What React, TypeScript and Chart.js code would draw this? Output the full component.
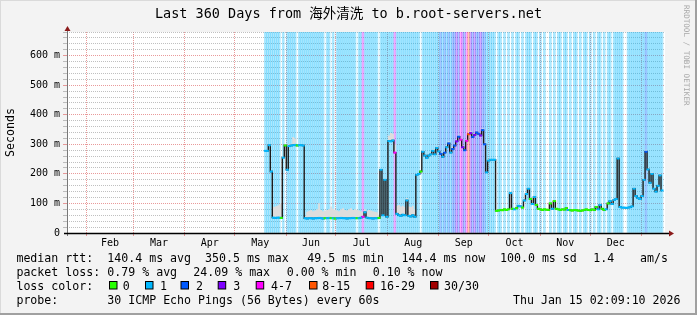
import React, { useEffect, useRef } from "react";
import { Chart, registerables } from "chart.js";

Chart.register(...registerables);

const W = 697;
const H = 315;

const TITLE = "Last 360 Days from 海外清洗 to b.root-servers.net";
const Y_TITLE = "Seconds";
const SIDE_TEXT = "RRDTOOL / TOBI OETIKER";

// days since the start of the 360-day window (Jan 20 2025 02:09)
const monthStartDays = [11.9, 39.9, 70.9, 100.9, 131.9, 161.9, 192.9, 223.9, 253.9, 284.9, 314.9, 345.9];
const monthMidDays = [25.9, 55.4, 85.9, 116.4, 146.9, 177.4, 208.4, 238.9, 269.4, 299.9, 330.4];
const monthLabels = ["Feb", "Mar", "Apr", "May", "Jun", "Jul", "Aug", "Sep", "Oct", "Nov", "Dec"];

const yMax = 680;
const yTickStep = 20;

const sampleStartDay = 119.4;
const sampleStepDay = 1.2;

// median rtt (ms) per sample
const medianMs = [
  278, 278, 297, 208, 52, 51, 52, 52, 51, 255,
  296, 214, 294, 296, 297, 298, 296, 297, 297, 296,
  50, 49, 50, 50, 49, 50, 50, 51, 50, 49,
  50, 50, 51, 50, 50, 49, 50, 50, 51, 50,
  50, 49, 50, 50, 51, 50, 50, 50, 52, 55,
  70, 52, 50, 50, 49, 50, 50, 51, 214, 60,
  180, 55, 311, 310, 313, 272, 65, 60, 58, 62,
  60, 110, 58, 56, 60, 55, 197, 200, 208, 275,
  262, 254, 262, 266, 278, 266, 288, 276, 268, 258,
  272, 290, 303, 272, 284, 296, 310, 326, 316, 290,
  280, 312, 334, 338, 325, 332, 340, 336, 330, 348,
  300, 205, 245, 248, 248, 248, 75, 76, 78, 77,
  80, 78, 80, 135, 82, 80, 84, 92, 90, 86,
  110, 132, 150, 115, 98, 122, 95, 82, 80, 78,
  80, 79, 78, 100, 82, 108, 82, 80, 78, 80,
  79, 84, 78, 77, 76, 78, 77, 76, 75, 76,
  78, 80, 78, 77, 80, 78, 88, 80, 95, 82,
  78, 80, 100, 108, 98, 112, 115, 252, 88, 86,
  86, 85, 86, 87, 90, 150, 125, 118, 115, 125,
  180, 275, 215, 170, 200, 150, 140, 160, 195, 144,
];

// upper edge of the smoke (ms) per sample
const smokeTopMs = [
  282, 282, 300, 210, 88, 90, 92, 96, 100, 258,
  300, 218, 300, 302, 325, 320, 300, 302, 300, 300,
  58, 72, 75, 78, 74, 76, 80, 101, 78, 74,
  76, 78, 80, 90, 82, 78, 76, 74, 80, 84,
  78, 76, 80, 84, 78, 80, 78, 76, 74, 72,
  80, 74, 78, 76, 74, 72, 70, 62, 218, 64,
  184, 60, 330, 338, 336, 300, 92, 95, 90, 92,
  88, 118, 90, 88, 92, 80, 200, 204, 212, 280,
  268, 260, 268, 272, 284, 272, 294, 282, 274, 264,
  278, 296, 310, 278, 290, 302, 316, 332, 322, 296,
  286, 318, 340, 344, 331, 338, 346, 342, 336, 354,
  306, 210, 250, 252, 252, 252, 78, 79, 81, 80,
  83, 81, 83, 140, 85, 83, 87, 96, 94, 89,
  115, 137, 156, 119, 102, 127, 99, 85, 83, 81,
  83, 82, 81, 104, 85, 112, 85, 83, 81, 83,
  82, 87, 81, 80, 79, 81, 80, 79, 78, 79,
  81, 83, 81, 80, 83, 81, 92, 83, 99, 85,
  81, 83, 104, 112, 102, 116, 119, 258, 91, 89,
  89, 88, 89, 90, 93, 156, 130, 122, 119, 130,
  186, 282, 222, 176, 206, 156, 145, 166, 202, 150,
];

// loss class per sample (index into lossColors) for the background shading
const lossBackground =
  "1111111101" + "0111110111" + "1111111111" + "0110101111" + "1111110114" +
  "1111111011" + "1111141111" + "1111111101" + "1111111121" + "2121223243" +
  "2453232232" + "2111110110" + "1010101101" + "0111011010" + "1001010110" +
  "1101011010" + "1101010110" + "1011011111" + "0011111111" + "1211111111";

// loss class per sample for the median line colour
const lossLine =
  "1111111101" + "0111110111" + "1111111111" + "0110101111" + "1111110114" +
  "1111111011" + "1111141111" + "1111111101" + "1111111121" + "2121223243" +
  "2453232232" + "2111110000" + "0001010110" + "1110110000" + "0000100000" +
  "0010000000" + "0000000110" + "0101111111" + "1111111111" + "1211111111";

const lossColors = ["#26ff00", "#00b8ff", "#0059ff", "#7e00ff", "#ff00ff", "#ff5500", "#ff0000", "#a10000"];
const lossLabels = ["0", "1", "2", "3", "4-7", "8-15", "16-29", "30/30"];

const rttRow = ["median rtt:", "140.4 ms avg", "350.5 ms max", "49.5 ms min", "144.4 ms now", "100.0 ms sd", "1.4", "am/s"];
const lossRow = ["packet loss:", "0.79 % avg", "24.09 % max", "0.00 % min", "0.10 % now"];
const lossColorTitle = "loss color:";
const probeRow = ["probe:", "30 ICMP Echo Pings (56 Bytes) every 60s"];
const stamp = "Thu Jan 15 02:09:10 2026";

const MONO = '"DejaVu Sans Mono", "Noto Sans CJK SC", monospace';
const mono = (px: number) => `${px}px ${MONO}`;

const BG_ALPHA = 0.33;
function lightColor(hex: string): string {
  const r = parseInt(hex.slice(1, 3), 16);
  const g = parseInt(hex.slice(3, 5), 16);
  const b = parseInt(hex.slice(5, 7), 16);
  return `rgba(${r},${g},${b},${BG_ALPHA})`;
}

const MAJOR = "rgba(225,120,120,0.75)";
const MINOR = "rgba(150,150,150,0.6)";

const decorPlugin = {
  id: "decor",
  beforeDraw(chart: any) {
    const { ctx, chartArea: a } = chart;
    ctx.save();
    ctx.fillStyle = "#f3f3f3";
    ctx.fillRect(0, 0, W, H);
    ctx.fillStyle = "#ffffff";
    ctx.fillRect(a.left, a.top, a.right - a.left, a.bottom - a.top);
    ctx.restore();
  },
  afterDraw(chart: any) {
    const { ctx, chartArea: a } = chart;
    ctx.save();
    // axes
    ctx.strokeStyle = "#777";
    ctx.lineWidth = 1;
    ctx.beginPath();
    ctx.moveTo(a.left + 0.5, a.bottom + 3);
    ctx.lineTo(a.left + 0.5, a.top - 2);
    ctx.stroke();
    ctx.strokeStyle = "#000";
    ctx.lineWidth = 1.5;
    ctx.beginPath();
    ctx.moveTo(a.left - 3, a.bottom + 0.5);
    ctx.lineTo(a.right + 5, a.bottom + 0.5);
    ctx.stroke();
    ctx.fillStyle = "#8b1a1a";
    ctx.beginPath();
    ctx.moveTo(a.left + 0.5, a.top - 6);
    ctx.lineTo(a.left - 2.5, a.top - 1);
    ctx.lineTo(a.left + 3.5, a.top - 1);
    ctx.closePath();
    ctx.fill();
    ctx.beginPath();
    ctx.moveTo(a.right + 9, a.bottom + 0.5);
    ctx.lineTo(a.right + 4, a.bottom - 2.5);
    ctx.lineTo(a.right + 4, a.bottom + 3.5);
    ctx.closePath();
    ctx.fill();

    // title
    ctx.fillStyle = "#000";
    ctx.textBaseline = "middle";
    ctx.textAlign = "center";
    ctx.font = mono(13.5);
    ctx.fillText(TITLE, 348.5, 14.5);

    // y title
    ctx.save();
    ctx.translate(11, (a.top + a.bottom) / 2);
    ctx.rotate(-Math.PI / 2);
    ctx.font = mono(11.6);
    ctx.fillText(Y_TITLE, 0, 0);
    ctx.restore();

    // side text
    ctx.save();
    ctx.translate(686, 5);
    ctx.rotate(Math.PI / 2);
    ctx.textAlign = "left";
    ctx.fillStyle = "#a8a8a8";
    ctx.font = mono(7.6);
    ctx.fillText(SIDE_TEXT, 0, 0);
    ctx.restore();

    // legend
    ctx.textAlign = "left";
    ctx.font = mono(11.6);
    ctx.fillStyle = "#000";
    const rttX = [16.4, 107.3, 205, 307.3, 401.5, 500, 593.3, 640];
    rttRow.forEach((t, i) => ctx.fillText(t, rttX[i], 258.8));
    const lossX = [16.4, 107.3, 193.3, 286.7, 372.7];
    lossRow.forEach((t, i) => ctx.fillText(t, lossX[i], 273.2));
    ctx.fillText(lossColorTitle, 16.4, 286.5);
    const boxX = [109, 145, 180.5, 217.7, 255.7, 309, 365.7, 430];
    const labX = [122.7, 160, 196, 233.3, 271, 322.3, 380, 444];
    lossLabels.forEach((t, i) => {
      ctx.fillStyle = lossColors[i];
      ctx.fillRect(boxX[i] + 0.5, 281.5, 7.5, 7.5);
      ctx.strokeStyle = "#000";
      ctx.lineWidth = 1;
      ctx.strokeRect(boxX[i] + 0.5, 281.5, 7.5, 7.5);
      ctx.fillStyle = "#000";
      ctx.fillText(t, labX[i], 286.5);
    });
    ctx.fillText(probeRow[0], 16.4, 301);
    ctx.fillText(probeRow[1], 107.3, 301);
    ctx.textAlign = "right";
    ctx.fillText(stamp, 680.5, 301);

    // frame shading
    ctx.fillStyle = "#dadada";
    ctx.fillRect(0, 0, W, 1);
    ctx.fillRect(0, 0, 1, H);
    ctx.fillStyle = "#a0a0a0";
    ctx.fillRect(W - 2, 0, 2, H);
    ctx.fillRect(0, H - 2, W, 2);
    ctx.restore();
  },
};

export default function App() {
  const ref = useRef<HTMLCanvasElement>(null);
  useEffect(() => {
    document.body.style.margin = "0";
    const canvas = ref.current;
    if (!canvas) return;
    const xs = medianMs.map((_, i) => sampleStartDay + i * sampleStepDay);
    const medianPts = medianMs.map((v, i) => ({ x: xs[i], y: v }));
    const smokePts = smokeTopMs.map((v, i) => ({ x: xs[i], y: v }));
    const bgPts = lossBackground.split("").map((_, i) => ({ x: xs[i], y: yMax }));
    const bgColors = lossBackground
      .split("")
      .map((c) => (c === "0" ? "rgba(0,0,0,0)" : lightColor(lossColors[+c])));
    const lineColors = lossLine.split("").map((c) => lossColors[+c]);

    const chart = new Chart(canvas, {
      type: "line",
      data: {
        datasets: [
          {
            data: medianPts,
            showLine: false,
            pointStyle: "line",
            pointRadius: 1.5,
            pointBorderWidth: 2,
            pointBorderColor: lineColors,
            pointBackgroundColor: lineColors,
            order: 0,
          } as any,
          {
            data: medianPts,
            borderColor: "#1c1c1c",
            borderWidth: 1.4,
            pointRadius: 0,
            stepped: "middle",
            fill: false,
            order: 1,
          },
          {
            data: smokePts,
            borderWidth: 0,
            borderColor: "rgba(0,0,0,0)",
            backgroundColor: "#dddddd",
            pointRadius: 0,
            stepped: "middle",
            fill: 1,
            order: 2,
          },
          {
            type: "bar",
            data: bgPts,
            backgroundColor: bgColors,
            borderWidth: 0,
            barPercentage: 1,
            categoryPercentage: 1,
            grouped: false,
            order: 3,
          } as any,
        ],
      },
      options: {
        responsive: false,
        animation: false,
        devicePixelRatio: 1,
        events: [],
        layout: { padding: { left: 0, right: 32, top: 32, bottom: 0 } },
        plugins: { legend: { display: false }, tooltip: { enabled: false }, title: { display: false } },
        scales: {
          x: {
            type: "linear",
            min: 0,
            max: 360,
            offset: false,
            z: 1,
            afterBuildTicks: (scale: any) => {
              scale.ticks = [...monthStartDays, ...monthMidDays]
                .sort((p, q) => p - q)
                .map((v) => ({ value: v }));
            },
            afterFit: (scale: any) => {
              scale.height = 82;
            },
            ticks: {
              autoSkip: false,
              maxRotation: 0,
              minRotation: 0,
              padding: 1,
              color: "#000",
              font: { family: MONO, size: 10 },
              callback: (value: any) => {
                const i = monthMidDays.indexOf(value);
                return i >= 0 ? monthLabels[i] : "";
              },
            },
            grid: {
              offset: false,
              color: (c: any) =>
                c.tick && monthStartDays.includes(c.tick.value) ? MAJOR : "rgba(0,0,0,0)",
              tickColor: (c: any) =>
                c.tick && monthStartDays.includes(c.tick.value) ? MAJOR : "rgba(0,0,0,0)",
              tickLength: 3,
              lineWidth: 1,
            },
            border: { display: false, dash: [1, 1] },
          },
          y: {
            type: "linear",
            min: 0,
            max: yMax,
            z: 1,
            afterBuildTicks: (scale: any) => {
              const t = [];
              for (let v = 0; v <= yMax; v += yTickStep) t.push({ value: v });
              scale.ticks = t;
            },
            afterFit: (scale: any) => {
              scale.width = 67;
            },
            ticks: {
              autoSkip: false,
              padding: 3,
              color: "#000",
              font: { family: MONO, size: 10 },
              callback: (value: any) => (value % 100 === 0 ? (value === 0 ? "0" : `${value} m`) : ""),
            },
            grid: {
              color: (c: any) => {
                const v = c.tick ? c.tick.value : 0;
                if (v === 0) return "rgba(0,0,0,0)";
                return v % 100 === 0 ? MAJOR : MINOR;
              },
              tickLength: 4,
              lineWidth: 1,
            },
            border: { display: false, dash: [1, 1] },
          },
        },
      },
      plugins: [decorPlugin],
    } as any);
    return () => chart.destroy();
  }, []);
  return (
    <div style={{ width: W, height: H }}>
      <canvas ref={ref} width={W} height={H} style={{ display: "block", width: W, height: H }} />
    </div>
  );
}
